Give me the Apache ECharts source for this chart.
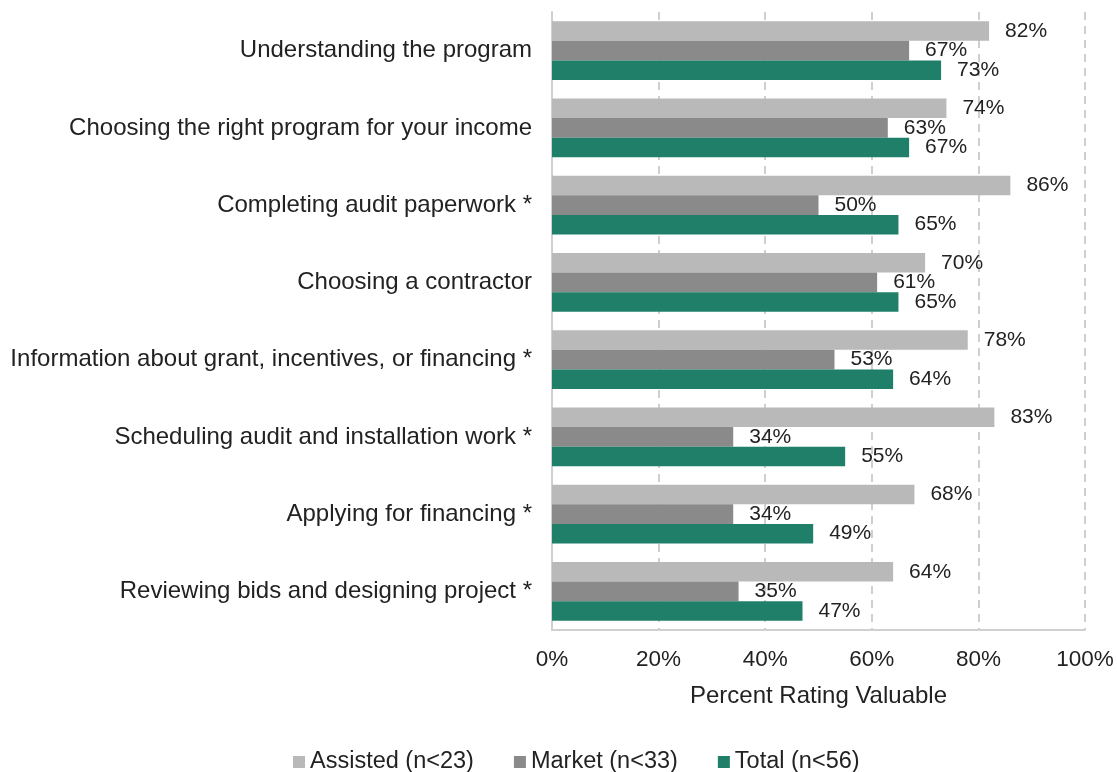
<!DOCTYPE html>
<html><head><meta charset="utf-8">
<script src="https://cdn.jsdelivr.net/npm/echarts@6/dist/echarts.min.js"></script>
<style>html,body{margin:0;padding:0;background:#fff}#c{width:1117px;height:772px}</style>
</head><body><div id="c"></div>
<script>
const categories = [
  "Understanding the program",
  "Choosing the right program for your income",
  "Completing audit paperwork *",
  "Choosing a contractor",
  "Information about grant, incentives, or financing *",
  "Scheduling audit and installation work *",
  "Applying for financing *",
  "Reviewing bids and designing project *"
];
const assisted = [82, 74, 86, 70, 78, 83, 68, 64];
const market = [67, 63, 50, 61, 53, 34, 34, 35];
const total = [73, 67, 65, 65, 64, 55, 49, 47];
const seriesNames = ["Assisted (n<23)", "Market (n<33)", "Total (n<56)"];
const colors = ["#b9b9b9", "#8a8a8a", "#1f7f69"];

const font = "'Liberation Sans', Arial, sans-serif";
const chart = echarts.init(document.getElementById('c'), null, {renderer: 'canvas'});
function mk(name, data, color) {
  return {
    name, type: 'bar', data, barGap: '0%', barCategoryGap: '24%',
    itemStyle: {color},
    label: {show: true, position: 'right', distance: 16, formatter: '{c}%',
      color: '#222', fontSize: 21, fontFamily: font},
    animation: false
  };
}
chart.setOption({
  animation: false,
  textStyle: {fontFamily: font},
  grid: {left: 552, right: 32, top: 12, bottom: 142, containLabel: false},
  legend: {
    top: 745, left: 288, itemWidth: 12, itemHeight: 12, itemGap: 40,
    icon: 'rect',
    textStyle: {fontSize: 23.5, color: '#222', fontFamily: font},
    data: seriesNames
  },
  xAxis: {
    type: 'value', min: 0, max: 100, interval: 20,
    name: 'Percent Rating Valuable', nameLocation: 'middle', nameGap: 54,
    nameTextStyle: {fontSize: 24, color: '#222', fontFamily: font},
    axisLabel: {formatter: '{value}%', fontSize: 22.5, color: '#222', margin: 18, fontFamily: font},
    axisLine: {show: true, lineStyle: {color: '#d0d0d0', width: 2}},
    axisTick: {show: false},
    splitLine: {show: true, lineStyle: {color: '#cfcfcf', type: [8, 6], width: 2}}
  },
  yAxis: {
    type: 'category', data: categories, inverse: true,
    axisLabel: {fontSize: 24, color: '#222', margin: 20, fontFamily: font},
    axisLine: {show: true, lineStyle: {color: '#d0d0d0', width: 2}},
    axisTick: {show: false}
  },
  series: [
    mk(seriesNames[0], assisted, colors[0]),
    mk(seriesNames[1], market, colors[1]),
    mk(seriesNames[2], total, colors[2])
  ]
});
</script></body></html>
